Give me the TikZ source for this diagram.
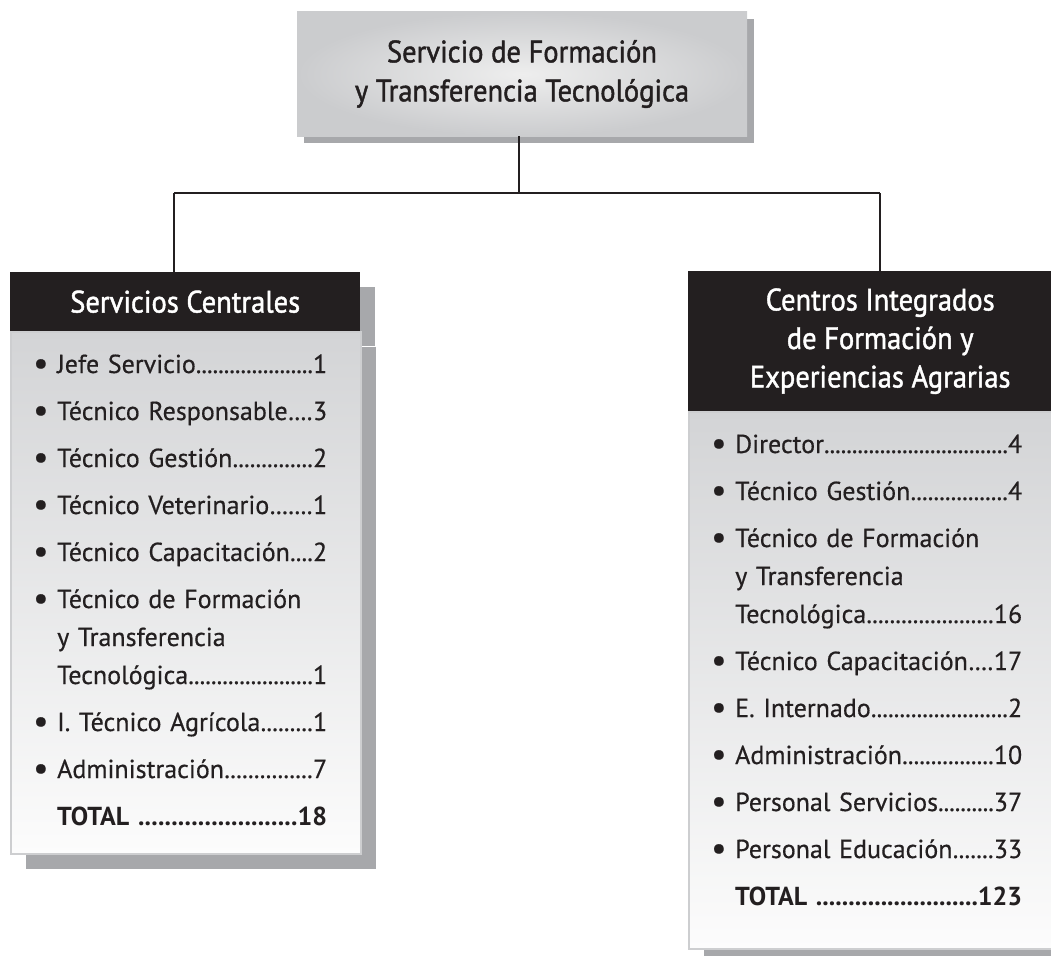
\documentclass[tikz,border=0pt]{standalone}
\usepackage{fontspec}
\setmainfont{PT Sans}[UprightFeatures={FakeBold=0.5}]
\newfontfamily\headfont{PT Sans}[FakeBold=1.4, FakeStretch=0.92]
\usetikzlibrary{shadows}

\definecolor{headblack}{HTML}{231F20}
\definecolor{shadowgrey}{HTML}{A7A8AB}
\definecolor{bodytop}{HTML}{D3D4D6}
\definecolor{bodybottom}{HTML}{FCFCFC}
\definecolor{bodyedge}{HTML}{CDCED0}
\definecolor{titleinner}{HTML}{EEEEEE}
\definecolor{titleouter}{HTML}{CBCCCE}

\newcommand{\leaderdots}{\xleaders\hbox{.}\hfill}
\newcommand{\nextline}{\hfil\break}
\newcommand{\staffitem}[2]{\hangindent=24pt\hangafter=1\noindent\makebox[24pt][l]{\raisebox{-1.5pt}{\fontsize{34}{34}\selectfont•}}#1\leaderdots#2\par}
\newcommand{\stafftotal}[1]{\noindent\hspace*{24pt}\textbf{TOTAL\ \leaderdots#1}\par}

\tikzset{titlebox/.style={rectangle, inner sep=0pt, minimum width=450pt, minimum height=124pt, inner color=titleinner, outer color=titleouter, drop shadow={shadow xshift=7pt, shadow yshift=-7pt, fill=shadowgrey, opacity=1}, align=center, text=headblack, font=\headfont\fontsize{31}{39}\selectfont}}
\tikzset{headbox/.style={rectangle, inner sep=0pt, anchor=north west, fill=headblack, text=white, align=center, drop shadow={shadow xshift=15pt, shadow yshift=-15pt, fill=shadowgrey, opacity=1}, font=\headfont\fontsize{31}{38.5}\selectfont}}
\tikzset{bodybox/.style={rectangle, inner sep=0pt, anchor=north west, draw=bodyedge, line width=1.5pt, top color=bodytop, bottom color=bodybottom, drop shadow={shadow xshift=15pt, shadow yshift=-15pt, fill=shadowgrey, opacity=1}}}
\tikzset{itemlist/.style={inner sep=0pt, anchor=base west, text=headblack, font=\fontsize{26}{38}\selectfont}}
\tikzset{connector/.style={draw=headblack, line width=1.3pt}}

\begin{document}
\begin{tikzpicture}[x=1pt, y=-1pt]
	\useasboundingbox (0,0) rectangle (1051,955);
	\clip (0,0) rectangle (1051,955);

	%top
	\node[titlebox] (sfyt) at (522,74) {Servicio de Formación\\ y Transferencia Tecnológica};

	%servicios centrales
	\node[headbox, minimum width=350pt, minimum height=59pt] (central) at (10,272) {Servicios Centrales};
	\node[bodybox, minimum width=350pt, minimum height=522pt] (centralBody) at (10,331) {};
	\node[itemlist, text width=294pt] (centralItems) at (33,373) {\setlength{\parskip}{9pt}%
		\staffitem{Jefe Servicio}{1}
		\staffitem{Técnico Responsable}{3}
		\staffitem{Técnico Gestión}{2}
		\staffitem{Técnico Veterinario}{1}
		\staffitem{Técnico Capacitación}{2}
		\staffitem{Técnico de Formación\nextline y Transferencia\nextline Tecnológica}{1}
		\staffitem{I. Técnico Agrícola}{1}
		\staffitem{Administración}{7}
		\stafftotal{18}};

	%centros integrados
	\node[headbox, minimum width=384pt, minimum height=140pt] (centros) at (688,271) {Centros Integrados\\ de Formación y\\ Experiencias Agrarias};
	\node[bodybox, minimum width=384pt, minimum height=537pt] (centrosBody) at (688,411) {};
	\node[itemlist, text width=311pt] (centrosItems) at (711,453) {\setlength{\parskip}{9pt}%
		\staffitem{Director}{4}
		\staffitem{Técnico Gestión}{4}
		\staffitem{Técnico de Formación\nextline y Transferencia\nextline Tecnológica}{16}
		\staffitem{Técnico Capacitación}{17}
		\staffitem{E. Internado}{2}
		\staffitem{Administración}{10}
		\staffitem{Personal Servicios}{37}
		\staffitem{Personal Educación}{33}
		\stafftotal{123}};

	%lines
	\coordinate (split) at (519,193);
	\coordinate (leftdrop) at (174,193);
	\coordinate (rightdrop) at (880,193);
	\draw[connector] (sfyt.south -| split) -- (split);
	\draw[connector] (leftdrop) -- (rightdrop);
	\draw[connector] (leftdrop) -- (leftdrop |- central.north);
	\draw[connector] (rightdrop) -- (rightdrop |- centros.north);
\end{tikzpicture}
\end{document}
